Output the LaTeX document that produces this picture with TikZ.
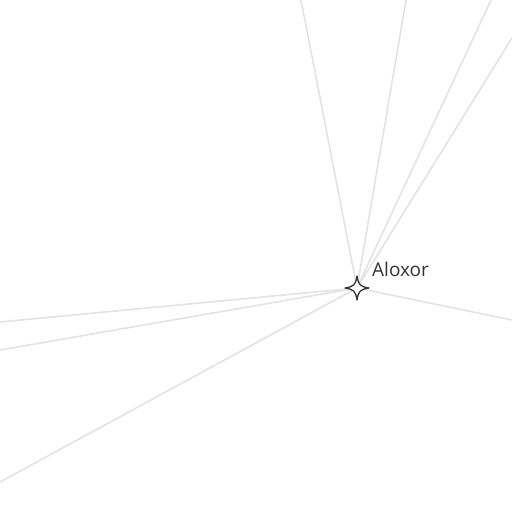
\documentclass[tikz,border=0pt]{standalone}
\usepackage{fontspec}
\setmainfont{Open Sans}
\usepackage{tikz}
\usetikzlibrary{positioning}
\definecolor{rayline}{HTML}{E3E3E3}
\definecolor{inkgray}{HTML}{333333}

\begin{document}
\begin{tikzpicture}[
  x=1pt,y=-1pt,
  ray/.style={draw=rayline,line width=1.6pt},
  starmark/.style={draw=inkgray,fill=white,line width=1.3pt,line join=round},
  lbl/.style={text=inkgray,font=\fontsize{19}{22}\selectfont,inner sep=0pt,anchor=base west}
]
\useasboundingbox (0,0) rectangle (512,512);
\node[inner sep=0pt] (aloxor) at (357,288) {};
\node[lbl] (aloxorlbl) at (372,276) {Aloxor};

\coordinate (t1) at (301,0);
\coordinate (t2) at (406,0);
\coordinate (t3) at (491,0);
\coordinate (r1) at (512,38);
\coordinate (r2) at (512,320);
\coordinate (l1) at (0,322);
\coordinate (l2) at (0,350);
\coordinate (l3) at (0,482);

\foreach \e in {t1,t2,t3,r1,r2,l1,l2,l3}
  \draw[ray] (aloxor.center) -- (\e);

\begin{scope}[shift={(aloxor.center)}]
\draw[starmark] (0,-12) .. controls (1.5,-3) and (3,-1.5) .. (12,0)
  .. controls (3,1.5) and (1.5,3) .. (0,12)
  .. controls (-1.5,3) and (-3,1.5) .. (-12,0)
  .. controls (-3,-1.5) and (-1.5,-3) .. cycle;
\end{scope}
\end{tikzpicture}
\end{document}
